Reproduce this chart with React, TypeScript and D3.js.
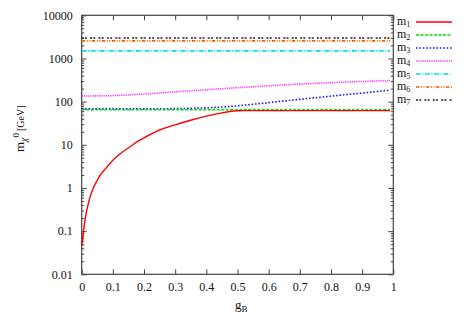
import React, { useEffect, useRef } from "react";
import * as d3 from "d3";

// g_B sample points and masses (GeV)
const gB1 = [0, 0.005, 0.01, 0.016, 0.025, 0.037, 0.05, 0.06, 0.08, 0.1, 0.125, 0.155, 0.18, 0.2, 0.25, 0.3, 0.35, 0.4, 0.45, 0.48, 0.5, 0.52, 0.6, 0.7, 0.8, 0.9, 0.99];
const m1 = [0.045, 0.09, 0.17, 0.3, 0.55, 1.0, 1.5, 2.0, 3.0, 4.4, 6.3, 9, 12, 14.5, 22, 29, 37, 46, 55, 60, 61.5, 62, 62, 62, 62, 62, 62];

const gB = [0, 0.1, 0.2, 0.3, 0.35, 0.4, 0.45, 0.5, 0.6, 0.7, 0.8, 0.9, 0.99];
const m2 = [65, 65, 65, 65, 65, 65, 65, 65, 65, 65, 65, 65, 65];
const m3 = [68, 68, 68, 69, 70, 72, 75, 80, 95, 113, 134, 158, 185];
const m4 = [135, 138, 150, 168, 178, 188, 199, 210, 233, 255, 275, 293, 308];
const m5 = [1500, 1500, 1500, 1500, 1500, 1500, 1500, 1500, 1500, 1500, 1500, 1500, 1500];
const m6 = [2550, 2550, 2550, 2550, 2550, 2550, 2550, 2550, 2550, 2550, 2550, 2550, 2550];
const m7 = [2980, 2980, 2980, 2980, 2980, 2980, 2980, 2980, 2980, 2980, 2980, 2980, 2980];

const seriesNames = ["1", "2", "3", "4", "5", "6", "7"];
const seriesColors = ["#ff0000", "#00e000", "#1a1aff", "#ff33ff", "#00e5e5", "#ff5a00", "#222222"];
const seriesDash = ["", "3,1.5", "1.6,1.8", "1.2,1", "5,1.5,1,1.5", "3.5,1.5,1,1.5,1,1.5", "2,1.2,2,3.2"];

const xTicks = [0, 0.1, 0.2, 0.3, 0.4, 0.5, 0.6, 0.7, 0.8, 0.9, 1];
const yTicks = [0.01, 0.1, 1, 10, 100, 1000, 10000];
const yTickLabels = ["0.01", "0.1", "1", "10", "100", "1000", "10000"];

const FONT = "Liberation Serif, DejaVu Serif, serif";

const App: React.FC = () => {
  const svgRef = useRef<SVGSVGElement | null>(null);

  useEffect(() => {
    if (!svgRef.current) return;
    const svg = d3.select(svgRef.current);
    svg.selectAll("*").remove();

    const left = 81.7, right = 393.3, top = 15.3, bottom = 274.3;

    const x = d3.scaleLinear().domain([0, 1]).range([left, right]);
    const y = d3.scaleLog().domain([0.01, 10000]).range([bottom, top]);

    const minor: number[] = [];
    for (let e = -2; e < 4; e++) {
      for (let k = 2; k <= 9; k++) minor.push(k * Math.pow(10, e));
    }

    const axisColor = "#444";

    // major axes with labels
    const xAxis = d3.axisBottom(x).tickValues(xTicks).tickSize(-5).tickPadding(8)
      .tickFormat((d) => String(+d));
    const yAxis = d3.axisLeft(y).tickValues(yTicks).tickSize(-5).tickPadding(9)
      .tickFormat((d, i) => yTickLabels[i]);

    const gx = svg.append("g").attr("transform", `translate(0,${bottom})`).call(xAxis);
    const gy = svg.append("g").attr("transform", `translate(${left},0)`).call(yAxis);

    // mirrored ticks
    const gxt = svg.append("g").attr("transform", `translate(0,${top})`)
      .call(d3.axisTop(x).tickValues(xTicks).tickSize(-5).tickFormat(() => ""));
    const gyr = svg.append("g").attr("transform", `translate(${right},0)`)
      .call(d3.axisRight(y).tickValues(yTicks).tickSize(-5).tickFormat(() => ""));
    // minor ticks
    const gyl2 = svg.append("g").attr("transform", `translate(${left},0)`)
      .call(d3.axisLeft(y).tickValues(minor).tickSize(-2.5).tickFormat(() => ""));
    const gyr2 = svg.append("g").attr("transform", `translate(${right},0)`)
      .call(d3.axisRight(y).tickValues(minor).tickSize(-2.5).tickFormat(() => ""));

    [gx, gy, gxt, gyr, gyl2, gyr2].forEach((g) => {
      g.attr("font-family", FONT).attr("font-size", 12);
      g.select(".domain").remove();
      g.selectAll(".tick line").attr("stroke", axisColor).attr("stroke-width", 1);
      g.selectAll(".tick text").attr("fill", "#111");
    });

    // frame
    svg.append("rect")
      .attr("x", left).attr("y", top)
      .attr("width", right - left).attr("height", bottom - top)
      .attr("fill", "none").attr("stroke", axisColor).attr("stroke-width", 1.2);

    const xsList = [gB1, gB, gB, gB, gB, gB, gB];
    const ysList = [m1, m2, m3, m4, m5, m6, m7];

    const line = d3.line<[number, number]>()
      .x((d) => x(d[0]))
      .y((d) => y(d[1]))
      .curve(d3.curveMonotoneX);

    // draw in reverse so red ends on top
    for (let i = ysList.length - 1; i >= 0; i--) {
      const pts: [number, number][] = xsList[i].map((g, j) => [g, ysList[i][j]]);
      svg.append("path")
        .datum(pts)
        .attr("d", line)
        .attr("fill", "none")
        .attr("stroke", seriesColors[i])
        .attr("stroke-width", i === 0 ? 1.4 : 1.6)
        .attr("stroke-dasharray", seriesDash[i] || null);
    }

    // legend
    const legend = svg.append("g").attr("font-family", FONT).attr("fill", "#111");
    seriesNames.forEach((name, i) => {
      const ly = 22 + i * 13;
      const t = legend.append("text")
        .attr("x", 397).attr("y", ly + 3)
        .attr("font-size", 12);
      t.append("tspan").text("m");
      t.append("tspan").attr("dy", 2).attr("font-size", 8).text(name);
      legend.append("line")
        .attr("x1", 416).attr("x2", 452)
        .attr("y1", ly).attr("y2", ly)
        .attr("stroke", seriesColors[i])
        .attr("stroke-width", 1.6)
        .attr("stroke-dasharray", seriesDash[i] || null);
    });

    // x label
    const xl = svg.append("text")
      .attr("x", 235).attr("y", 309)
      .attr("font-family", FONT).attr("font-size", 13).attr("fill", "#111");
    xl.append("tspan").text("g");
    xl.append("tspan").attr("dy", 3).attr("font-size", 9).text("B");

    // y label
    const yl = svg.append("text")
      .attr("transform", "translate(24,152) rotate(-90)")
      .attr("font-family", FONT).attr("font-size", 13).attr("fill", "#111");
    yl.append("tspan").text("m");
    yl.append("tspan").attr("dy", 3).attr("font-size", 10).attr("font-style", "italic").text("χ");
    yl.append("tspan").attr("dy", -8).attr("font-size", 9).text("0");
    yl.append("tspan").attr("dy", 5).attr("dx", 2).attr("font-size", 10).text("[GeV]");
  }, []);

  return (
    <svg
      ref={svgRef}
      width={467}
      height={327}
      style={{ position: "absolute", left: 0, top: 0, background: "#fff" }}
    ></svg>
  );
};

export default App;
